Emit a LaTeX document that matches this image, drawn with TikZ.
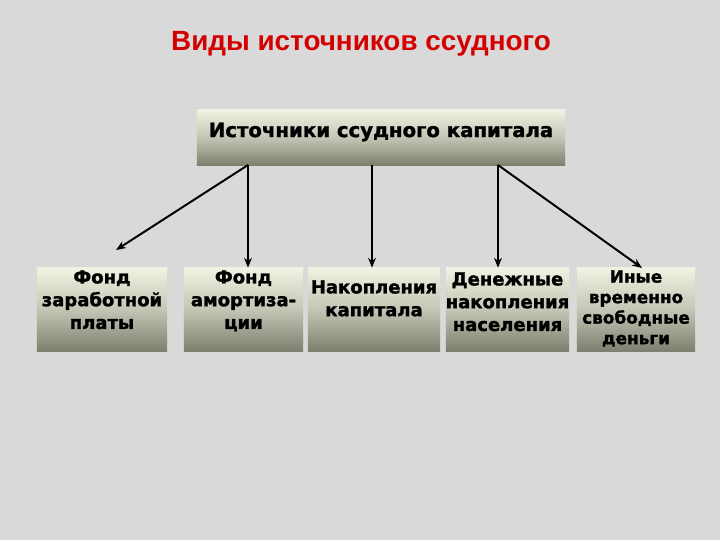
\documentclass[tikz,border=0pt]{standalone}
\usepackage{fontspec}
\setmainfont{DejaVu Sans}[BoldFeatures={FakeBold=1.5}]
\newfontfamily\titlefont{Liberation Sans}
\usetikzlibrary{arrows.meta}
\definecolor{slidebg}{HTML}{D9D9D9}
\definecolor{titlered}{HTML}{D40000}
\definecolor{boxtop}{HTML}{EFF3E2}
\definecolor{boxmid}{HTML}{C4C5B4}
\definecolor{boxbot}{HTML}{7E7F6E}
\begin{document}
\begin{tikzpicture}[
			x=0.025cm, y=-0.025cm,
			>={Stealth[length=7pt, width=5.5pt]},
			link line/.style={->, line width=1.4pt},
			title node/.style={font=\titlefont\bfseries\fontsize{19.8}{24}\selectfont, text=titlered},
			grad box/.style={inner sep=0pt, top color=boxtop, bottom color=boxbot, middle color=boxmid},
			box text/.style={font=\bfseries\fontsize{12.8}{16.2}\selectfont, align=center, inner sep=0pt, anchor=north}
			]
			\fill[slidebg] (0,0) rectangle (720,540);
			\node[title node] (title) at (361,44) {Виды источников ссудного};
			
			\node[grad box, minimum width=9.2cm, minimum height=1.375cm] (src) at (381,137.5) {};
			\node[font=\bfseries\fontsize{14}{17}\selectfont, inner sep=0pt] (srctext) at (381,132) {Источники ссудного капитала};
			
			\node[grad box, minimum width=3.25cm, minimum height=2.075cm] (b1) at (102,309.5) {};
			\node[grad box, minimum width=2.975cm, minimum height=2.075cm] (b2) at (243.5,309.5) {};
			\node[grad box, minimum width=3.3cm, minimum height=2.075cm] (b3) at (374,309.5) {};
			\node[grad box, minimum width=3.075cm, minimum height=2.075cm] (b4) at (507.5,309.5) {};
			\node[grad box, minimum width=2.95cm, minimum height=2.075cm] (b5) at (636,309.5) {};
			
			\node[box text] (t1) at (102,270) {Фонд\\заработной\\платы};
			\node[box text] (t2) at (243.5,270) {Фонд\\амортиза-\\ции};
			\node[box text] (t3) at (374,280) {Накопления\\капитала};
			\node[box text] (t4) at (507.5,272) {Денежные\\накопления\\населения};
			\node[box text, font=\bfseries\fontsize{12}{14.6}\selectfont] (t5) at (636,270) {Иные\\временно\\свободные\\деньги};
			
			\coordinate (fork l) at (248,165);
			\coordinate (fork m) at (372,165);
			\coordinate (fork r) at (498,165);
			\coordinate (end l) at (116,250);
			\coordinate (end r) at (642,268);
			
			\draw[link line] (fork l) -- (end l);
			\draw[link line] (fork l) -- (fork l |- b2.north);
			\draw[link line] (fork m) -- (fork m |- b3.north);
			\draw[link line] (fork r) -- (fork r |- b4.north);
			\draw[link line] (fork r) -- (end r);
		\end{tikzpicture}
\end{document}
